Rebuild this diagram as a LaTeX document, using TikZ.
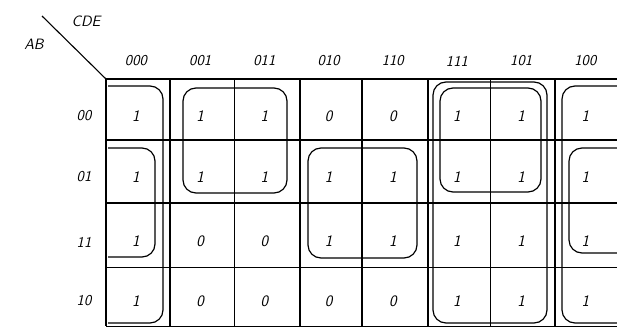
\documentclass[tikz,border=0pt]{standalone}
\begin{document}
\begin{tikzpicture}[x=1pt,y=-1pt,
    cellval/.style={font=\sffamily\slshape\fontsize{16}{16}\selectfont},
    headlbl/.style={font=\sffamily\slshape\fontsize{15}{15}\selectfont},
    loopline/.style={line width=1.2pt,rounded corners=13pt}]
    \useasboundingbox (0,0) rectangle (617,329);
    \begin{scope}
    \clip (0,0) rectangle (617,329);

    % Draw the grid
    \draw[line width=1.6pt] (106,79) -- (617,79);
    \foreach \y/\w in {140/1.4,203/1.4,267/1.0,326/1.0}
        \draw[line width=\w pt] (106,\y) -- (617,\y);
    \foreach \x/\w in {106/1.1,170/1.6,234/1.0,300/1.1,362/1.6,428/1.6,490/1.0,555/1.6}
        \draw[line width=\w pt] (\x,79) -- (\x,326);

    % Corner diagonal and variable names
    \coordinate (D1) at (42,16);
    \coordinate (D2) at (106,79);
    \draw[line width=1.1pt] (D1) -- (D2);
    \node[headlbl] (cde) at (86,21) {CDE};
    \node[headlbl] (ab) at (34,44) {AB};

    % Column headers
    \foreach \lbl [count=\i] in {000,001,011,010,110,111,101,100}
        \node[headlbl] (col-\i) at ({136+64.2*(\i-1)},61) {\lbl};

    % Row headers
    \foreach \lbl/\y [count=\j] in {00/116,01/177,11/242,10/301}
        \node[headlbl] (row-\j) at (84,\y) {\lbl};

    % Cell values
    \foreach \vals/\y [count=\j] in {
        {1,1,1,0,0,1,1,1}/116,
        {1,1,1,1,1,1,1,1}/177,
        {1,0,0,1,1,1,1,1}/241,
        {1,0,0,0,0,1,1,1}/301}
        \foreach \v [count=\i] in \vals
            \node[cellval] (v-\j-\i) at ({136+64.2*(\i-1)},\y) {\v};

    % Groupings
    \draw[loopline] (108,86) -- (163,86) -- (163,323) -- (108,323);
    \draw[loopline] (108,148) -- (155,148) -- (155,257) -- (108,257);
    \draw[loopline] (183,88) rectangle (287,193);
    \draw[loopline] (308,148) rectangle (417,258);
    \draw[loopline] (440,88) rectangle (541,192);
    \draw[loopline] (433,82) rectangle (547,323);
    \draw[loopline] (619,86) -- (562,86) -- (562,323) -- (619,323);
    \draw[loopline] (619,148) -- (569,148) -- (569,253) -- (619,253);
    \end{scope}
\end{tikzpicture}
\end{document}
